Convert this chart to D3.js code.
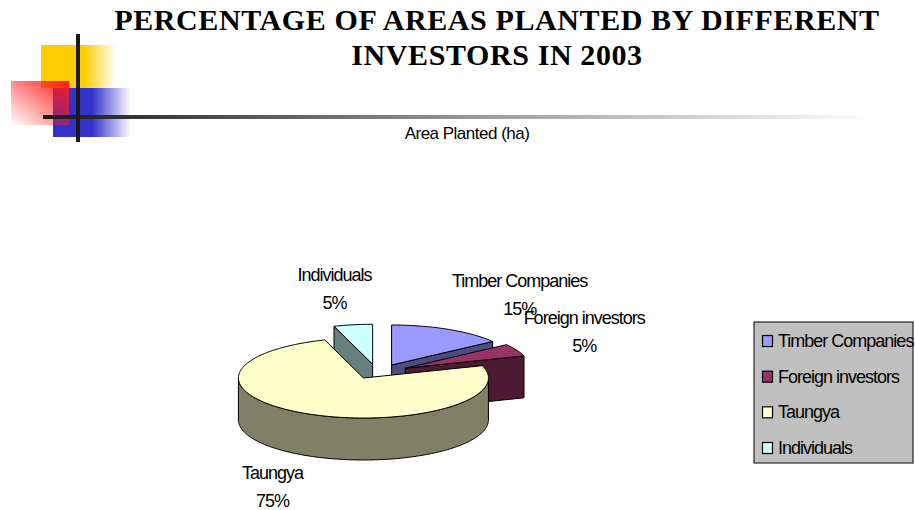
<!DOCTYPE html>
<html>
<head>
<meta charset="utf-8">
<script src="https://d3js.org/d3.v7.min.js"></script>
<style>
  body { margin: 0; background: #fff; }
  svg { display: block; }
</style>
</head>
<body>
<div id="chart"></div>
<script>
// ---- data ----
const categories = ["Timber Companies", "Foreign investors", "Taungya", "Individuals"];
const percentValues = [15, 5, 75, 5];
const topColors = ["#9999FF", "#993366", "#FFFFCC", "#CCFFFF"];
const sideColors = ["#4D4D80", "#4D1A33", "#808066", "#668080"];
const titleLines = ["PERCENTAGE OF AREAS PLANTED BY DIFFERENT", "INVESTORS IN 2003"];
const seriesName = "Area Planted (ha)";

const width = 915, height = 510;

const svg = d3.select("#chart").append("svg")
    .attr("width", width)
    .attr("height", height);

const defs = svg.append("defs");

/*********************
***** DECORATION *****
*********************/
function hGrad(id, stops) {
    const g = defs.append("linearGradient").attr("id", id)
        .attr("x1", 0).attr("y1", 0).attr("x2", 1).attr("y2", 0);
    stops.forEach(s => g.append("stop").attr("offset", s[0])
        .attr("stop-color", s[1]).attr("stop-opacity", s[2]));
}
hGrad("yellowGrad", [[0, "#FFCC00", 1], [0.58, "#FFCC00", 1], [1, "#FFCC00", 0]]);
hGrad("blueGrad", [[0, "#3333CC", 1], [0.5, "#3333CC", 1], [1, "#3333CC", 0]]);
hGrad("lineGrad", [[0, "#1a1a1a", 1], [0.55, "#a0a0a0", 1], [1, "#ffffff", 1]]);
const redGrad = defs.append("linearGradient").attr("id", "redGrad")
    .attr("x1", 1).attr("y1", 0).attr("x2", 0).attr("y2", 1);
redGrad.append("stop").attr("offset", 0).attr("stop-color", "#FF1A1A").attr("stop-opacity", 1);
redGrad.append("stop").attr("offset", 1).attr("stop-color", "#FF1A1A").attr("stop-opacity", 0);

const deco = svg.append("g").attr("class", "deco");
deco.append("rect").attr("x", 41).attr("y", 45).attr("width", 75).attr("height", 43).attr("fill", "url(#yellowGrad)");
deco.append("rect").attr("x", 53).attr("y", 88).attr("width", 78).attr("height", 49).attr("fill", "url(#blueGrad)");
deco.append("rect").attr("x", 11).attr("y", 81).attr("width", 58).attr("height", 44).attr("fill", "url(#redGrad)");
deco.append("rect").attr("x", 43).attr("y", 115).attr("width", 830).attr("height", 4).attr("fill", "url(#lineGrad)");
deco.append("rect").attr("x", 76).attr("y", 34).attr("width", 4).attr("height", 108).attr("fill", "#1a1a1a");

/*****************
***** TITLES *****
*****************/
svg.selectAll(".chartTitle")
    .data(titleLines)
    .join("text")
    .attr("class", "chartTitle")
    .attr("x", 497)
    .attr("y", (d, i) => 30 + i * 35)
    .attr("text-anchor", "middle")
    .style("font-family", "'Liberation Serif', 'Times New Roman', serif")
    .style("font-weight", "bold")
    .style("font-size", "30px")
    .style("letter-spacing", "0.6px")
    .text(d => d);

svg.append("text")
    .attr("x", 467)
    .attr("y", 139)
    .attr("text-anchor", "middle")
    .style("font-family", "'Liberation Sans', Arial, sans-serif")
    .style("font-size", "17px")
    .style("letter-spacing", "-0.5px")
    .text(seriesName);

/*****************
***** 3D PIE *****
*****************/
const cx = 377.5, cy = 371.5;   // pie centre
const rx = 125, ry = 40;        // ellipse radii
const depth = 42;
const ex = 31, ey = 7.3;        // explode offsets

const pie = d3.pie().sort(null).value(d => d.value);
const slices = pie(categories.map((c, i) => ({name: c, value: percentValues[i], idx: i})));
slices.forEach(s => {
    s.mid = (s.startAngle + s.endAngle) / 2;
    s.ox = ex * Math.sin(s.mid);
    s.oy = -ey * Math.cos(s.mid);
});

const pt = (s, a, dz = 0) => [cx + s.ox + rx * Math.sin(a), cy + s.oy - ry * Math.cos(a) + dz];
const vtx = (s, dz = 0) => [cx + s.ox, cy + s.oy + dz];
const line = d3.line();

function arcPts(s, a0, a1, dz) {
    const n = Math.max(2, Math.ceil((a1 - a0) / 0.02));
    return d3.range(n + 1).map(k => pt(s, a0 + (a1 - a0) * k / n, dz));
}

const plot = svg.append("g").attr("class", "plot");

// back to front
const order = slices.slice().sort((a, b) => Math.cos(b.mid) - Math.cos(a.mid));

order.forEach(s => {
    const g = plot.append("g");
    const side = sideColors[s.data.idx];
    const a0 = s.startAngle, a1 = s.endAngle;

    // radial walls facing viewer
    [[a0, a0 - Math.PI / 2], [a1, a1 + Math.PI / 2]].forEach(([a, n]) => {
        if (Math.cos(n) < -1e-6) {
            g.append("path")
                .attr("d", line([vtx(s), pt(s, a), pt(s, a, depth), vtx(s, depth)]) + "Z")
                .attr("fill", side).attr("stroke", "#000").attr("stroke-width", 1)
                .attr("stroke-linejoin", "round");
        }
    });

    // outer curved wall (front half only)
    const w0 = Math.max(a0, Math.PI / 2), w1 = Math.min(a1, 3 * Math.PI / 2);
    if (w1 > w0) {
        const pts = arcPts(s, w0, w1, 0).concat(arcPts(s, w0, w1, depth).reverse());
        g.append("path")
            .attr("d", line(pts) + "Z")
            .attr("fill", side).attr("stroke", "#000").attr("stroke-width", 1)
            .attr("stroke-linejoin", "round");
    }

    // top face
    g.append("path")
        .attr("d", line([vtx(s)].concat(arcPts(s, a0, a1, 0))) + "Z")
        .attr("fill", topColors[s.data.idx]).attr("stroke", "#000").attr("stroke-width", 1)
        .attr("stroke-linejoin", "round");
});

/*****************
***** LABELS *****
*****************/
const labelFont = "'Liberation Sans', Arial, sans-serif";
const clamp = (v) => Math.max(-1, Math.min(1, v));

slices.forEach(s => {
    const sn = Math.sin(s.mid), cs = Math.cos(s.mid);
    const outer = pt(s, s.mid, cs < 0 ? depth : 0);
    const t = svg.append("text")
        .style("font-family", labelFont)
        .style("font-size", "18px")
        .style("letter-spacing", "-1px")
        .attr("text-anchor", "middle");
    const l1 = t.append("tspan").text(s.data.name);
    const l2 = t.append("tspan").text(Math.round(s.value / d3.sum(percentValues) * 100) + "%");
    const w = Math.max(l1.node().getComputedTextLength(), l2.node().getComputedTextLength());
    const h = 46;
    const bx = outer[0] + (w / 2) * clamp(sn * 3) + 8 * sn;
    const by = outer[1] - (h / 2) * clamp(cs * 1.2) - (cs > 0 ? 14 : 8) * cs;
    const top = by - h / 2;
    l1.attr("x", bx).attr("y", top + 16);
    l2.attr("x", bx).attr("y", top + 44);
});

/*****************
***** LEGEND *****
*****************/
const legend = svg.append("g").attr("transform", "translate(754,322)");
legend.append("rect")
    .attr("width", 159).attr("height", 141)
    .attr("fill", "#C0C0C0").attr("stroke", "#000").attr("stroke-width", 1);

const rowY = d3.scalePoint().domain(categories).range([19, 126]);

const rows = legend.selectAll(".legRow")
    .data(categories)
    .join("g")
    .attr("class", "legRow")
    .attr("transform", d => `translate(0,${rowY(d)})`);

rows.append("rect")
    .attr("x", 8.5).attr("y", -5.5).attr("width", 10).attr("height", 11)
    .attr("fill", (d, i) => topColors[i])
    .attr("stroke", "#000").attr("stroke-width", 1.2);

rows.append("text")
    .attr("x", 24).attr("y", 6)
    .style("font-family", labelFont)
    .style("font-size", "18px")
    .style("letter-spacing", "-1px")
    .text(d => d);
</script>
</body>
</html>
